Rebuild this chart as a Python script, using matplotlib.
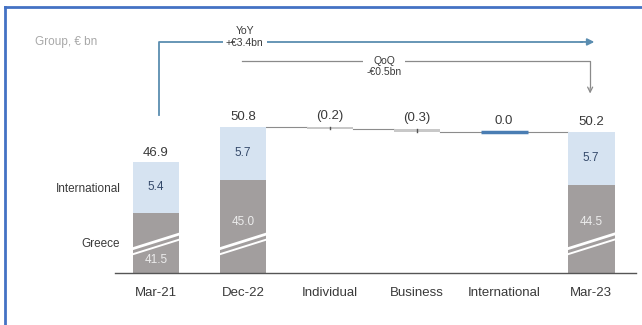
import matplotlib
matplotlib.use("Agg")
import matplotlib.pyplot as plt
from matplotlib.lines import Line2D

# data
categories = ["Mar-21", "Dec-22", "Individual", "Business", "International", "Mar-23"]
greece = [41.5, 45.0, None, None, None, 44.5]
international = [5.4, 5.7, None, None, None, 5.7]
totals = [46.9, 50.8, None, None, None, 50.2]
changes = [None, None, -0.2, -0.3, 0.0, None]
change_labels = ["", "", "(0.2)", "(0.3)", "0.0", ""]
base = 35.0  # broken axis starts here

GREY = "#a29e9e"
LIGHT = "#d6e3f1"
TXT = "#3a3a3a"
NAVY = "#34496a"
BLUE = "#5a8db0"

plt.rcParams['font.family'] = ['Liberation Sans', 'DejaVu Sans']

fig = plt.figure(figsize=(6.42, 3.25), dpi=100)
ax = fig.add_axes([0, 0, 1, 1])
ax.set_xlim(-1.793, 5.586)
ax.set_ylim(29.41, 64.35)
ax.axis("off")

w = 0.54

level = None
for i, cat in enumerate(categories):
    if totals[i] is not None:
        g = greece[i]
        it = international[i]
        ax.bar(i, g - base, bottom=base, width=w, color=GREY, zorder=2)
        ax.bar(i, it, bottom=g, width=w, color=LIGHT, zorder=2)
        ax.text(i, g + it + 0.4, f"{totals[i]:.1f}", ha="center", va="bottom",
                fontsize=9.5, color=TXT)
        ax.text(i, g + it / 2, f"{it:.1f}", ha="center", va="center",
                fontsize=8.5, color=NAVY)
        gy = 40.5 if g - base > 8 else 36.4
        ax.text(i, gy, f"{g:.1f}", ha="center", va="center", fontsize=8.5,
                color="#ececec")
        # axis break marks
        for off in (0.0, -0.6):
            ax.plot([i - w / 2 - 0.07, i + w / 2 + 0.07],
                    [37.4 + off, 39.4 + off], color="white",
                    lw=2.0 if off == 0 else 1.4, zorder=3,
                    solid_capstyle="butt")
        if level is not None and i == len(categories) - 1:
            ax.plot([i - 1 + w / 2, i - w / 2], [level, level], color="#8c8c8c",
                    lw=0.8, zorder=1)
        level = g + it
    else:
        d = changes[i]
        ax.plot([i - 1 + w / 2, i - w / 2], [level, level], color="#8c8c8c",
                lw=0.8, zorder=1)
        if d == 0:
            ax.plot([i - w / 2, i + w / 2], [level, level], color="#4a7db3",
                    lw=2.5, zorder=2, solid_capstyle="butt")
            ax.text(i, level + 0.5, change_labels[i], ha="center", va="bottom",
                    fontsize=9.5, color=TXT)
        else:
            ax.bar(i, d, bottom=level, width=w, color="#c8c8c8", zorder=2)
            ax.plot([i, i], [level + d, level], color="#555555", lw=1, zorder=3)
            ax.text(i, level + 0.5, change_labels[i], ha="center", va="bottom",
                    fontsize=9.5, color=TXT)
            level = level + d

# baseline
ax.plot([-0.47, 5.52], [base, base], color="#555555", lw=1, zorder=4)

for i, cat in enumerate(categories):
    ax.text(i, 32.85, cat, ha="center", va="center", fontsize=9.5, color=TXT)

# segment labels on the left
ax.text(-0.41, totals[0] - international[0] / 2 - 0.2, "International", ha="right",
        va="center", fontsize=8.5, color=TXT)
ax.text(-0.41, 38.1, "Greece", ha="right", va="center", fontsize=8.5, color=TXT)

ax.text(-1.395, 59.8, "Group, \u20ac bn", ha="left", va="center", fontsize=8.5,
        color="#a8a8a8")

# YoY bracket
ax.plot([0.03, 0.03, 4.9], [52.0, 59.84, 59.84], color=BLUE, lw=1.3, zorder=1)
ax.annotate("", xy=(5.07, 59.84), xytext=(4.85, 59.84),
            arrowprops=dict(arrowstyle="-|>", color=BLUE, lw=1.3,
                            mutation_scale=10))
ax.text(1.02, 60.4, "YoY\n+\u20ac3.4bn", ha="center", va="center", fontsize=7.5,
        color=TXT, linespacing=1.2,
        bbox=dict(boxstyle="square,pad=0.3", fc="white", ec="none"))

# QoQ bracket
ax.plot([0.99, 4.99, 4.99], [57.8, 57.8, 55.0], color="#8a8a8a", lw=0.9, zorder=1)
ax.annotate("", xy=(4.99, 54.0), xytext=(4.99, 55.2),
            arrowprops=dict(arrowstyle="->", color="#8a8a8a", lw=0.9,
                            mutation_scale=9))
ax.text(2.62, 57.2, "QoQ\n-\u20ac0.5bn", ha="center", va="center", fontsize=7.5,
        color=TXT, linespacing=1.2,
        bbox=dict(boxstyle="square,pad=0.3", fc="white", ec="none"))

# frame
fig.add_artist(Line2D([5 / 642, 1], [1 - 7 / 325, 1 - 7 / 325], color="#4472c4",
                      lw=2, transform=fig.transFigure))
fig.add_artist(Line2D([5 / 642, 5 / 642], [0, 1 - 7 / 325], color="#4472c4",
                      lw=2, transform=fig.transFigure))

fig.savefig("out.png", dpi=100)
